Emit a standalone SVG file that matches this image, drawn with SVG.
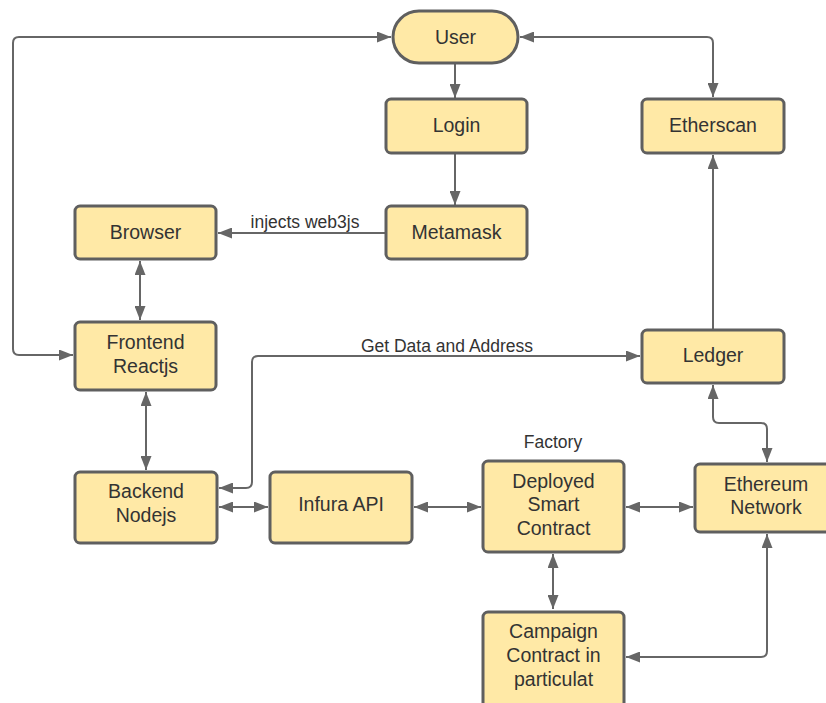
<svg xmlns="http://www.w3.org/2000/svg" width="826" height="703" viewBox="0 0 826 703">
<style>
.n{fill:#ffe9a6;stroke:#5f5f5f;stroke-width:3}
.t{font-family:"Liberation Sans",Arial,sans-serif;font-size:19.5px;fill:#333;text-anchor:middle}
.l{font-family:"Liberation Sans",Arial,sans-serif;font-size:17.5px;fill:#333;text-anchor:middle}
.c{fill:none;stroke:#666;stroke-width:2}
</style>
<defs>
<marker id="a" viewBox="0 0 14 11" refX="14" refY="5.5" markerWidth="14" markerHeight="11" markerUnits="userSpaceOnUse" orient="auto-start-reverse">
<path d="M0,0 L14,5.5 L0,11 z" fill="#666"/>
</marker>
</defs>
<rect width="826" height="703" fill="#fff"/>
<g id="connectors">
<path class="c" d="M455,63 V98" marker-end="url(#a)"/>
<path class="c" d="M455,153 V205" marker-end="url(#a)"/>
<path class="c" d="M386,233 H218" marker-end="url(#a)"/>
<path class="c" d="M140,261 V320" marker-start="url(#a)" marker-end="url(#a)"/>
<path class="c" d="M146,392 V470" marker-start="url(#a)" marker-end="url(#a)"/>
<path class="c" d="M73,355 H19 Q13,355 13,349 V43 Q13,37 19,37 H391" marker-start="url(#a)" marker-end="url(#a)"/>
<path class="c" d="M520,37 H707 Q713,37 713,43 V97" marker-start="url(#a)" marker-end="url(#a)"/>
<path class="c" d="M713,329 V155" marker-end="url(#a)"/>
<path class="c" d="M219,488 H246 Q252,488 252,482 V362 Q252,356 258,356 H640" marker-start="url(#a)" marker-end="url(#a)"/>
<path class="c" d="M713,385 V417 Q713,423 719,423 H761 Q767,423 767,429 V462" marker-start="url(#a)" marker-end="url(#a)"/>
<path class="c" d="M219,507 H268" marker-start="url(#a)" marker-end="url(#a)"/>
<path class="c" d="M414,507 H481" marker-start="url(#a)" marker-end="url(#a)"/>
<path class="c" d="M626,507 H693" marker-start="url(#a)" marker-end="url(#a)"/>
<path class="c" d="M553,554 V609" marker-start="url(#a)" marker-end="url(#a)"/>
<path class="c" d="M626,657 H761 Q767,657 767,651 V534" marker-start="url(#a)" marker-end="url(#a)"/>
<text class="l" x="305" y="228">injects web3js</text>
<text class="l" x="447" y="352">Get Data and Address</text>
<text class="l" x="553" y="448">Factory</text>
</g>
<g id="user"><rect class="n" x="393" y="11" width="125" height="52" rx="26"/><text class="t" x="455.5" y="44">User</text></g>
<g id="login"><rect class="n" x="386" y="99" width="141" height="54" rx="5"/><text class="t" x="456.5" y="132">Login</text></g>
<g id="metamask"><rect class="n" x="386" y="206" width="141" height="53" rx="5"/><text class="t" x="456.5" y="239">Metamask</text></g>
<g id="etherscan"><rect class="n" x="642" y="99" width="142" height="54" rx="5"/><text class="t" x="713" y="132">Etherscan</text></g>
<g id="browser"><rect class="n" x="75" y="206" width="141" height="53" rx="5"/><text class="t" x="145.5" y="239">Browser</text></g>
<g id="frontend"><rect class="n" x="75" y="322" width="141" height="68" rx="5"/><text class="t" x="145.5" y="349">Frontend</text><text class="t" x="145.5" y="373">Reactjs</text></g>
<g id="ledger"><rect class="n" x="642" y="330" width="142" height="53" rx="5"/><text class="t" x="713" y="362">Ledger</text></g>
<g id="backend"><rect class="n" x="75" y="472" width="142" height="71" rx="5"/><text class="t" x="146" y="498">Backend</text><text class="t" x="146" y="522">Nodejs</text></g>
<g id="infura"><rect class="n" x="270" y="472" width="142" height="71" rx="5"/><text class="t" x="341" y="511">Infura API</text></g>
<g id="deployed"><rect class="n" x="483" y="461" width="141" height="91" rx="5"/><text class="t" x="553.5" y="488">Deployed</text><text class="t" x="553.5" y="511">Smart</text><text class="t" x="553.5" y="535">Contract</text></g>
<g id="ethereum"><rect class="n" x="695" y="464" width="142" height="68" rx="5"/><text class="t" x="766" y="491">Ethereum</text><text class="t" x="766" y="514">Network</text></g>
<g id="campaign"><rect class="n" x="483" y="612" width="141" height="100" rx="5"/><text class="t" x="553.5" y="638">Campaign</text><text class="t" x="553.5" y="662">Contract in</text><text class="t" x="553.5" y="686">particulat</text></g>
</svg>
